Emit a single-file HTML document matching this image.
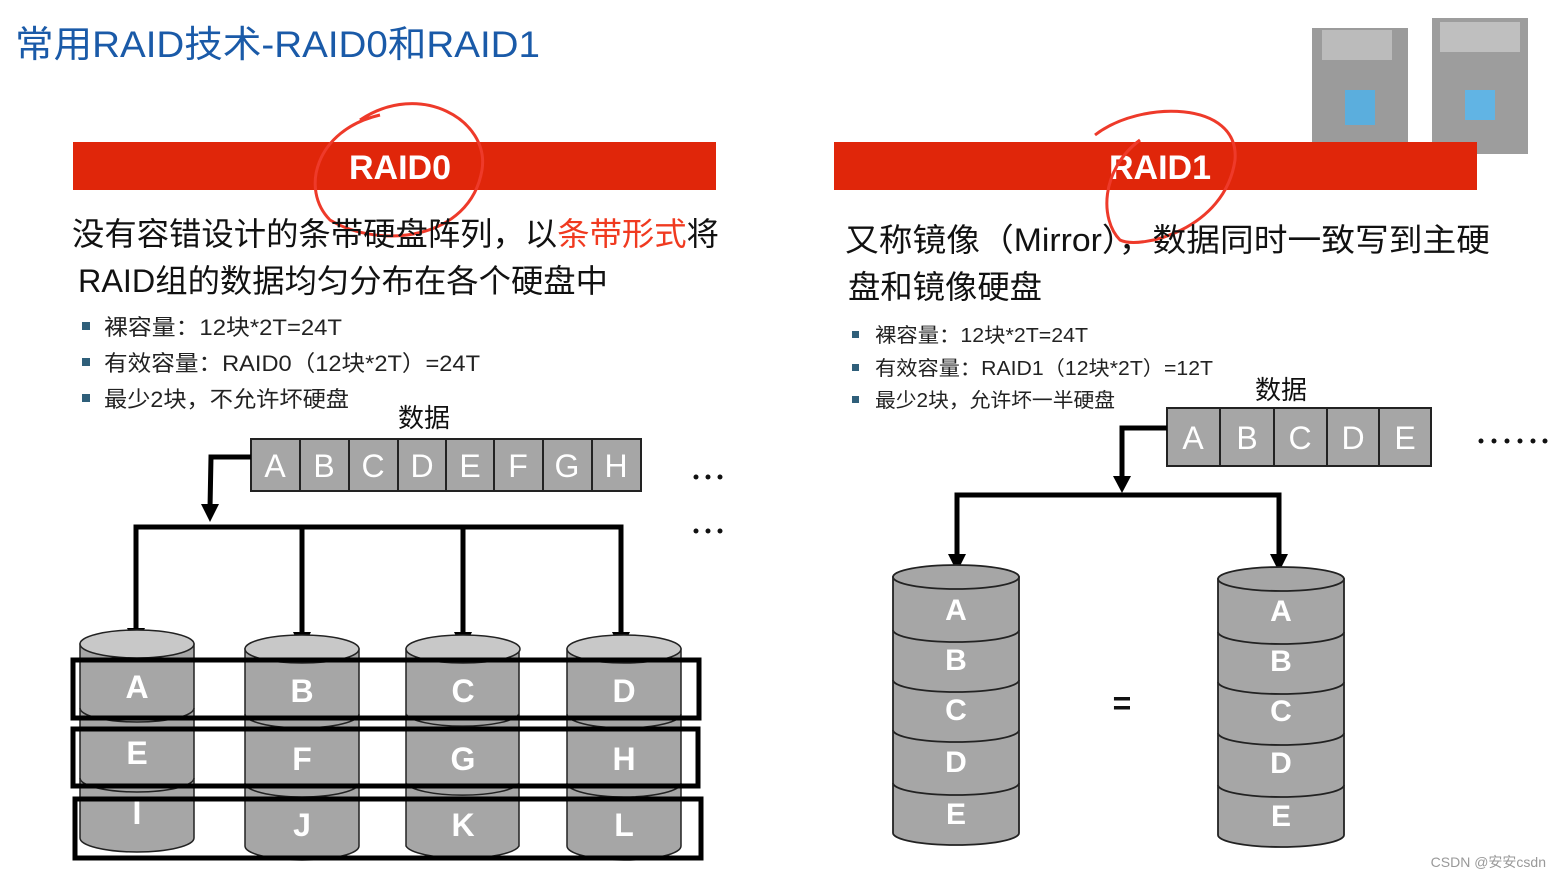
<!DOCTYPE html>
<html><head><meta charset="utf-8"><style>
html,body{margin:0;padding:0;background:#fff;}
svg{display:block;}
text{font-family:"Liberation Sans","Noto Sans CJK SC",sans-serif;}
</style></head><body>
<svg width="1561" height="879" viewBox="0 0 1561 879" xmlns="http://www.w3.org/2000/svg">
<text x="15" y="57" font-size="37" fill="#1a5aa8" textLength="525" lengthAdjust="spacingAndGlyphs">常用RAID技术-RAID0和RAID1</text>

<!-- blurred images -->
<g opacity="0.85">
<rect x="1312" y="28" width="96" height="130" fill="#8a8a8a"/>
<rect x="1322" y="30" width="70" height="30" fill="#b0b0b0"/>
<rect x="1345" y="90" width="30" height="35" fill="#3fa0d8"/>
<rect x="1432" y="18" width="96" height="136" fill="#8c8c8c"/>
<rect x="1440" y="22" width="80" height="30" fill="#b5b5b5"/>
<rect x="1465" y="90" width="30" height="30" fill="#46a8e0"/>
</g>

<!-- red bars -->
<rect x="73" y="142" width="643" height="48" fill="#e0260a"/>
<text x="400" y="179" font-size="34" font-weight="bold" fill="#fff" text-anchor="middle">RAID0</text>
<rect x="834" y="142" width="643" height="48" fill="#e0260a"/>
<text x="1160" y="179" font-size="34" font-weight="bold" fill="#fff" text-anchor="middle">RAID1</text>

<!-- hand circles -->
<path d="M360,120 C420,80 490,120 482,170 C470,240 380,250 330,220 C300,190 315,130 380,115" fill="none" stroke="#ee3a2a" stroke-width="3"/>
<path d="M1095,135 C1140,100 1240,100 1235,160 C1225,230 1140,250 1120,240 C1100,220 1100,170 1140,140" fill="none" stroke="#ee3a2a" stroke-width="3"/>

<!-- left text -->
<text x="72" y="245" font-size="32" fill="#111" textLength="647" lengthAdjust="spacingAndGlyphs">没有容错设计的条带硬盘阵列，以<tspan fill="#f03a20">条带形式</tspan>将</text>
<text x="78" y="292" font-size="32" fill="#111" textLength="530" lengthAdjust="spacingAndGlyphs">RAID组的数据均匀分布在各个硬盘中</text>
<g font-size="22" fill="#222">
<rect x="82" y="322" width="8" height="8" fill="#2f5f7a"/><text x="104" y="335" textLength="238" lengthAdjust="spacingAndGlyphs">裸容量：12块*2T=24T</text>
<rect x="82" y="358" width="8" height="8" fill="#2f5f7a"/><text x="104" y="371" textLength="376" lengthAdjust="spacingAndGlyphs">有效容量：RAID0（12块*2T）=24T</text>
<rect x="82" y="394" width="8" height="8" fill="#2f5f7a"/><text x="104" y="407" textLength="245" lengthAdjust="spacingAndGlyphs">最少2块，不允许坏硬盘</text>
</g>
<text x="398" y="427" font-size="26" fill="#111">数据</text>
<g stroke="#222" stroke-width="2" fill="#a6a6a6">
<rect x="251" y="439" width="390" height="52"/>
<line x1="300" y1="439" x2="300" y2="491"/><line x1="349" y1="439" x2="349" y2="491"/><line x1="398" y1="439" x2="398" y2="491"/><line x1="446" y1="439" x2="446" y2="491"/><line x1="494" y1="439" x2="494" y2="491"/><line x1="543" y1="439" x2="543" y2="491"/><line x1="592" y1="439" x2="592" y2="491"/>
</g>
<g font-size="32" fill="#fff" text-anchor="middle">
<text x="275" y="477">A</text><text x="324" y="477">B</text><text x="373" y="477">C</text><text x="422" y="477">D</text><text x="470" y="477">E</text><text x="518" y="477">F</text><text x="567" y="477">G</text><text x="616" y="477">H</text>
</g>
<g fill="#111"><circle cx="696" cy="477" r="2.5"/><circle cx="708" cy="477" r="2.5"/><circle cx="720" cy="477" r="2.5"/>
<circle cx="696" cy="531" r="2.5"/><circle cx="708" cy="531" r="2.5"/><circle cx="720" cy="531" r="2.5"/></g>

<g stroke="#000" stroke-width="5" fill="none">
<polyline points="251,457 211,457 210,508"/>
<polyline points="136,640 136,527 621,527 621,643"/>
<line x1="302" y1="527" x2="302" y2="645"/>
<line x1="463" y1="527" x2="463" y2="645"/>
</g>
<g fill="#000">
<path d="M201,504 L219,504 L210,522 Z"/>
<path d="M127,628 L145,628 L136,646 Z"/><path d="M293,632 L311,632 L302,650 Z"/><path d="M454,632 L472,632 L463,650 Z"/><path d="M612,632 L630,632 L621,650 Z"/>
</g>

<!-- RAID0 disks -->
<g stroke="#222" stroke-width="1.5">
<path d="M80,644 L80,838 A57,14 0 0 0 194,838 L194,644 Z" fill="#a6a6a6"/>
<ellipse cx="137" cy="644" rx="57" ry="14" fill="#c8c8c8"/>
<path d="M80,708 A57,14 0 0 0 194,708 M80,778 A57,14 0 0 0 194,778" fill="none"/>
<path d="M245,649 L245,846 A57,14 0 0 0 359,846 L359,649 Z" fill="#a6a6a6"/>
<ellipse cx="302" cy="649" rx="57" ry="14" fill="#c8c8c8"/>
<path d="M245,714 A57,14 0 0 0 359,714 M245,783 A57,14 0 0 0 359,783" fill="none"/>
<path d="M406,649 L406,846 A57,14 0 0 0 519,846 L519,649 Z" fill="#a6a6a6"/>
<ellipse cx="463" cy="649" rx="57" ry="14" fill="#c8c8c8"/>
<path d="M406,714 A57,14 0 0 0 519,714 M406,783 A57,14 0 0 0 519,783" fill="none"/>
<path d="M567,649 L567,846 A57,14 0 0 0 681,846 L681,649 Z" fill="#a6a6a6"/>
<ellipse cx="624" cy="649" rx="57" ry="14" fill="#c8c8c8"/>
<path d="M567,714 A57,14 0 0 0 681,714 M567,783 A57,14 0 0 0 681,783" fill="none"/>
</g>
<g font-size="32" font-weight="bold" fill="#fff" text-anchor="middle">
<text x="137" y="698">A</text><text x="302" y="702">B</text><text x="463" y="702">C</text><text x="624" y="702">D</text>
<text x="137" y="764">E</text><text x="302" y="770">F</text><text x="463" y="770">G</text><text x="624" y="770">H</text>
<text x="137" y="824">I</text><text x="302" y="836">J</text><text x="463" y="836">K</text><text x="624" y="836">L</text>
</g>
<g stroke="#000" stroke-width="5" fill="none">
<rect x="73" y="660" width="626" height="58"/>
<rect x="73" y="729" width="625" height="57"/>
<rect x="75" y="799" width="626" height="59"/>
</g>

<!-- right text -->
<text x="845" y="251" font-size="32" fill="#111" textLength="645" lengthAdjust="spacingAndGlyphs">又称镜像（Mirror），数据同时一致写到主硬</text>
<text x="848" y="298" font-size="32" fill="#111" textLength="194" lengthAdjust="spacingAndGlyphs">盘和镜像硬盘</text>
<g font-size="20" fill="#222">
<rect x="852" y="331" width="7" height="7" fill="#2f5f7a"/><text x="875" y="342" textLength="213" lengthAdjust="spacingAndGlyphs">裸容量：12块*2T=24T</text>
<rect x="852" y="364" width="7" height="7" fill="#2f5f7a"/><text x="875" y="375" textLength="338" lengthAdjust="spacingAndGlyphs">有效容量：RAID1（12块*2T）=12T</text>
<rect x="852" y="396" width="7" height="7" fill="#2f5f7a"/><text x="875" y="407" textLength="240" lengthAdjust="spacingAndGlyphs">最少2块，允许坏一半硬盘</text>
</g>
<text x="1255" y="399" font-size="26" fill="#111">数据</text>
<g stroke="#222" stroke-width="2" fill="#a6a6a6">
<rect x="1167" y="408" width="264" height="58"/>
<line x1="1220" y1="408" x2="1220" y2="466"/><line x1="1274" y1="408" x2="1274" y2="466"/><line x1="1327" y1="408" x2="1327" y2="466"/><line x1="1379" y1="408" x2="1379" y2="466"/>
</g>
<g font-size="32" fill="#fff" text-anchor="middle">
<text x="1193" y="449">A</text><text x="1247" y="449">B</text><text x="1300" y="449">C</text><text x="1353" y="449">D</text><text x="1405" y="449">E</text>
</g>
<g fill="#111"><circle cx="1481" cy="441" r="2.5"/><circle cx="1494" cy="441" r="2.5"/><circle cx="1507" cy="441" r="2.5"/><circle cx="1520" cy="441" r="2.5"/><circle cx="1533" cy="441" r="2.5"/><circle cx="1545" cy="441" r="2.5"/></g>

<g stroke="#000" stroke-width="5" fill="none">
<polyline points="1167,428 1122,428 1122,482"/>
<polyline points="957,560 957,495 1279,495 1279,560"/>
</g>
<g fill="#000">
<path d="M1113,476 L1131,476 L1122,493 Z"/><path d="M948,554 L966,554 L957,572 Z"/><path d="M1270,554 L1288,554 L1279,572 Z"/>
</g>

<g stroke="#222" stroke-width="1.8" fill="none">
<path d="M893,577 L893,833 A63,12 0 0 0 1019,833 L1019,577 Z" fill="#a6a6a6"/>
<ellipse cx="956" cy="577" rx="63" ry="12" fill="#a6a6a6"/>
<path d="M893,630 A63,12 0 0 0 1019,630 M893,680 A63,12 0 0 0 1019,680 M893,730 A63,12 0 0 0 1019,730 M893,783 A63,12 0 0 0 1019,783"/>
<path d="M1218,579 L1218,835 A63,12 0 0 0 1344,835 L1344,579 Z" fill="#a6a6a6"/>
<ellipse cx="1281" cy="579" rx="63" ry="12" fill="#a6a6a6"/>
<path d="M1218,632 A63,12 0 0 0 1344,632 M1218,682 A63,12 0 0 0 1344,682 M1218,733 A63,12 0 0 0 1344,733 M1218,785 A63,12 0 0 0 1344,785"/>
</g>
<g font-size="30" font-weight="bold" fill="#fff" text-anchor="middle">
<text x="956" y="620">A</text><text x="956" y="670">B</text><text x="956" y="720">C</text><text x="956" y="772">D</text><text x="956" y="824">E</text>
<text x="1281" y="621">A</text><text x="1281" y="671">B</text><text x="1281" y="721">C</text><text x="1281" y="773">D</text><text x="1281" y="826">E</text>
</g>
<text x="1122" y="714" font-size="32" font-weight="bold" fill="#111" text-anchor="middle">=</text>

<text x="1546" y="867" font-size="14" fill="#999" text-anchor="end">CSDN @安安csdn</text>
</svg>
</body></html>
